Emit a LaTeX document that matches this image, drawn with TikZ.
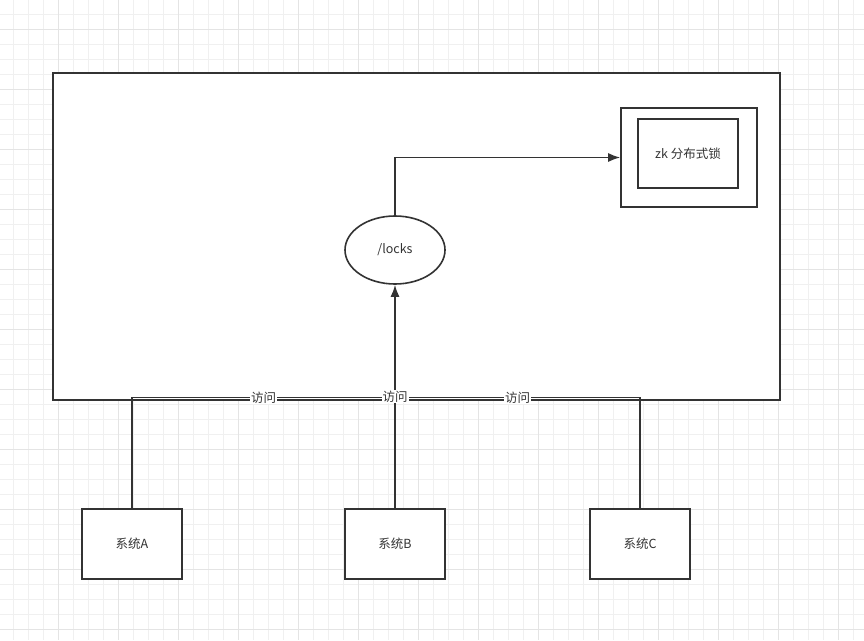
\documentclass[tikz,border=0pt]{standalone}
\usepackage{fontspec}
\setmainfont{Noto Sans CJK SC}
\usetikzlibrary{arrows.meta,shapes.geometric}
\definecolor{ln}{HTML}{333333}
\definecolor{gminor}{HTML}{F0F0F0}
\definecolor{gmajor}{HTML}{E4E4E4}
\tikzset{
  box/.style={draw=ln,line width=1.6pt,fill=white,inner sep=0pt,font=\fontsize{12.5}{14}\selectfont,text=ln},
  oval/.style={ellipse,draw=ln,line width=1.6pt,fill=white,inner sep=0pt,minimum width=100pt,minimum height=68pt,font=\fontsize{12.5}{14}\selectfont,text=ln},
  conn/.style={draw=ln,line width=1.6pt},
  tip/.style={-{Latex[length=12pt,width=9pt]}},
  lbl/.style={fill=white,inner sep=1pt,text=ln,font=\fontsize{12.5}{14}\selectfont}
}
\begin{document}
\begin{tikzpicture}[x=1pt,y=-1pt]
\useasboundingbox (0,0) rectangle (864,640);
\fill[white] (0,0) rectangle (864,640);
% grid
\foreach \i in {0,...,57} {
  \draw[gminor,line width=0.8pt] ({13.5+15*\i},0) -- ({13.5+15*\i},640);
}
\foreach \i in {0,...,42} {
  \draw[gminor,line width=0.8pt] (0,{14.3+15*\i}) -- (864,{14.3+15*\i});
}
\foreach \i in {0,...,14} {
  \draw[gmajor,line width=0.8pt] ({58.5+60*\i},0) -- ({58.5+60*\i},640);
}
\foreach \i in {0,...,10} {
  \draw[gmajor,line width=0.8pt] (0,{29.3+60*\i}) -- (864,{29.3+60*\i});
}
% nodes
\node[box,minimum width=727pt,minimum height=327pt] (big) at (416.5,236.5) {};
\node[box,minimum width=136pt,minimum height=99pt] (outer) at (689,157.5) {};
\node[box,minimum width=100pt,minimum height=69pt] (inner) at (688,153.5) {zk 分布式锁};
\node[oval] (locks) at (395,250) {/locks};
\node[box,minimum width=100pt,minimum height=70pt] (A) at (132,544) {系统A};
\node[box,minimum width=100pt,minimum height=70pt] (B) at (395,544) {系统B};
\node[box,minimum width=100pt,minimum height=70pt] (C) at (640,544) {系统C};
\coordinate (j) at (395,397.5);
% connectors
\draw[conn,tip] (locks.north) |- (outer.west);
\draw[conn] (A.north) |- node[lbl,pos=0.75]{访问} (j);
\draw[conn] (C.north) |- node[lbl,pos=0.75]{访问} (j);
\draw[conn,tip] (B.north) -- node[lbl,pos=0.5]{访问} (locks.south);
\end{tikzpicture}
\end{document}
